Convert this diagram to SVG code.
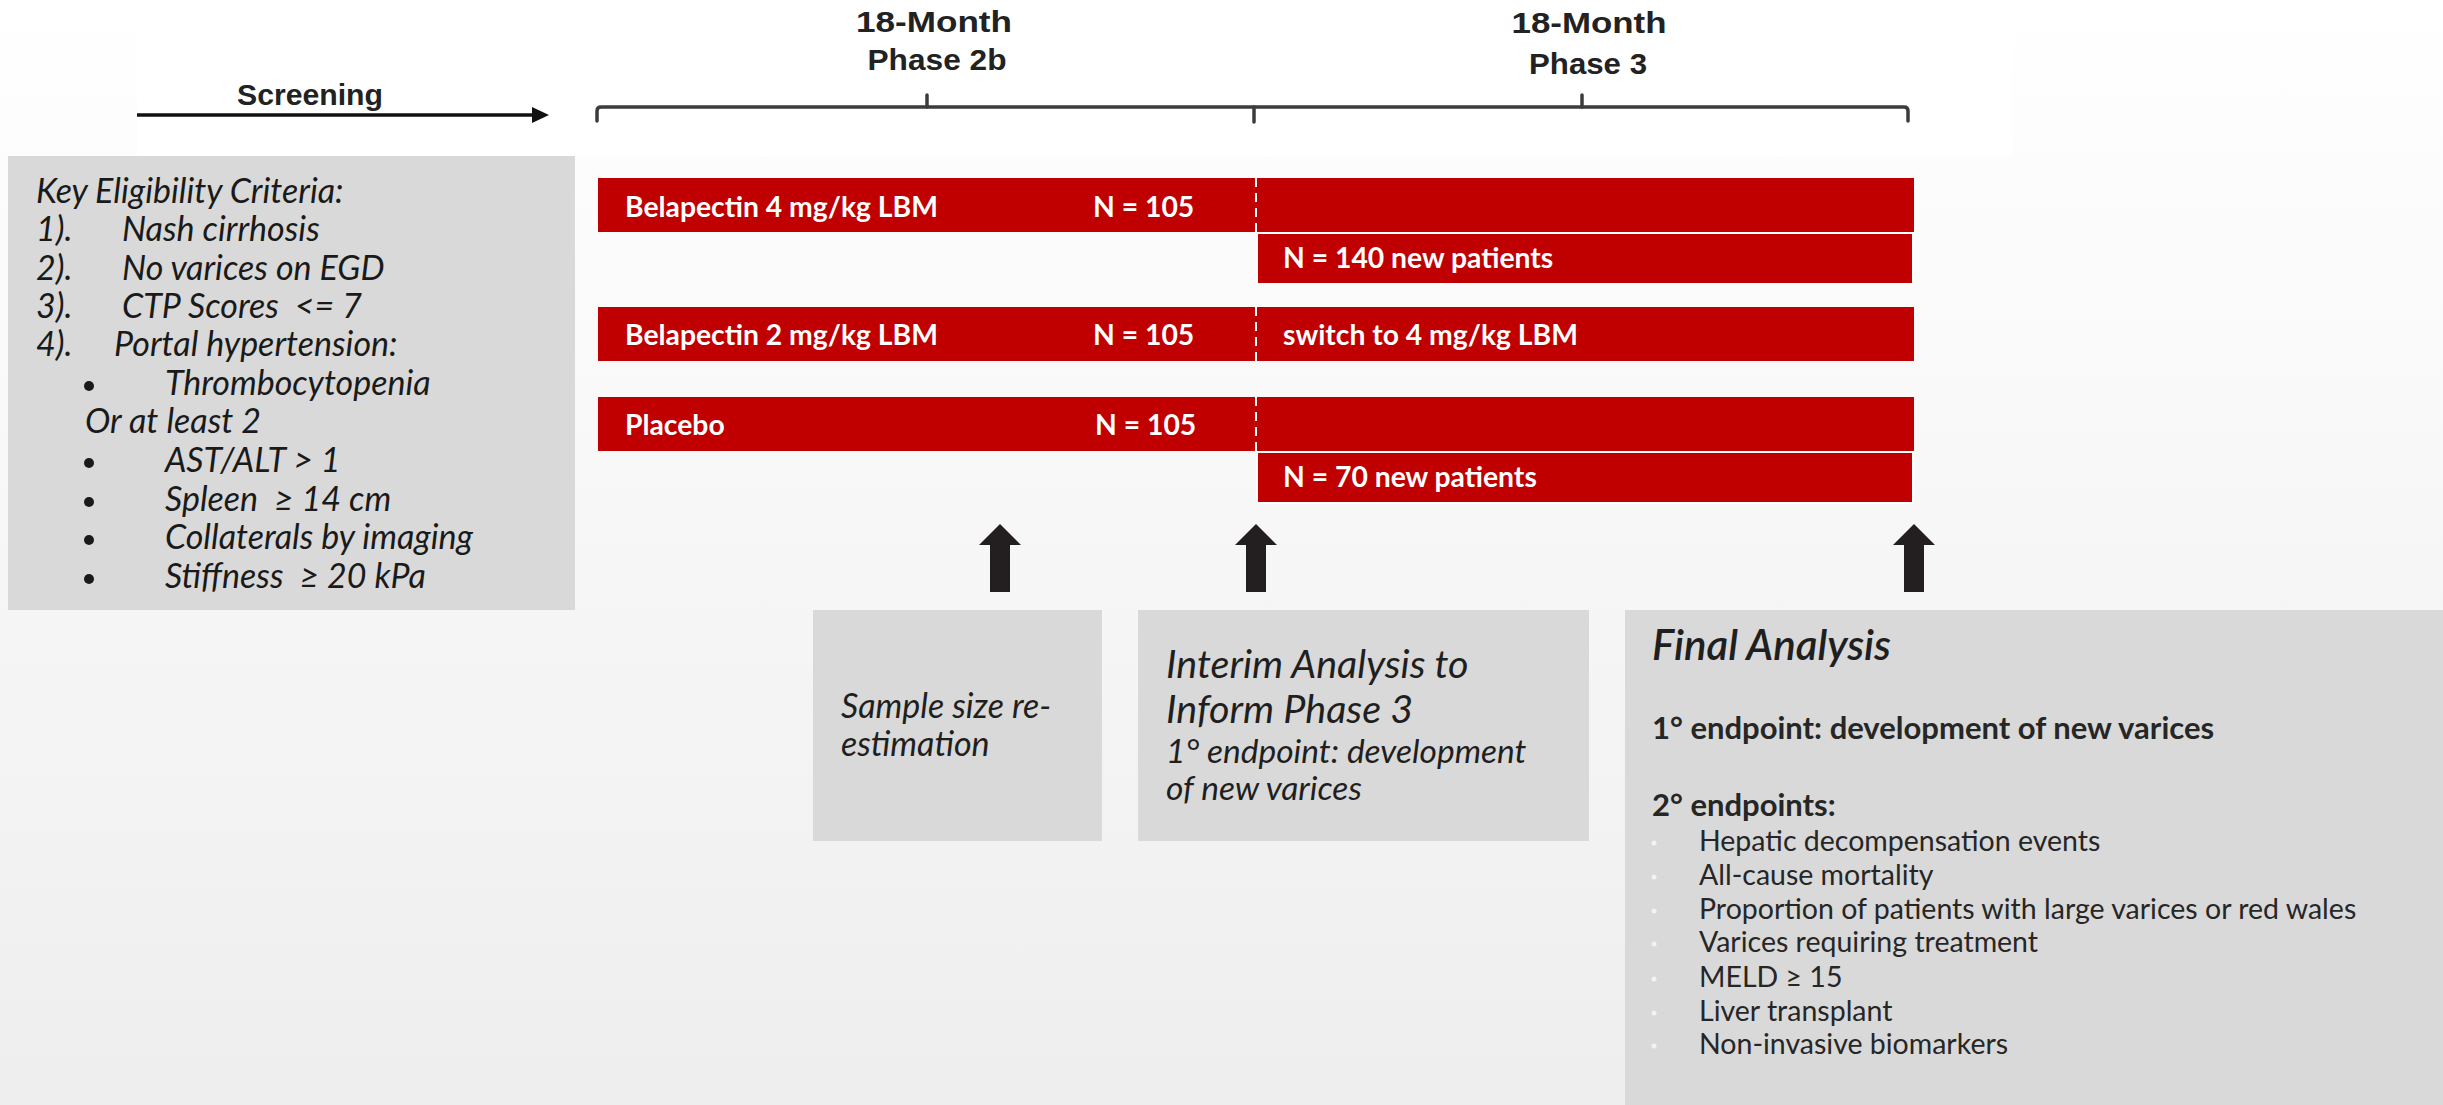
<svg xmlns="http://www.w3.org/2000/svg" width="2443" height="1105" viewBox="0 0 2443 1105">
<defs>
<linearGradient id="bg" x1="0" y1="0" x2="0" y2="1">
<stop offset="0" stop-color="#ffffff"/>
<stop offset="1" stop-color="#eeeeee"/>
</linearGradient>
<style>
.bar{fill:#c00000}
.bar2{fill:#c00000;stroke:#ffffff;stroke-width:2}
.bt{font-family:Lato,"Liberation Sans",sans-serif;font-weight:bold;font-size:28.3px;fill:#ffffff}
.gbox{fill:#d9d9d9}
.crit{font-family:Lato,"Liberation Sans",sans-serif;font-style:italic;font-size:34px;fill:#1a1a1a}
.hdr{font-family:"Liberation Sans",Arial,sans-serif;font-weight:bold;font-size:30px;fill:#222222}
.dash{stroke:#ffffff;stroke-width:2;stroke-dasharray:9 6}
.tl{fill:none;stroke:#3c3c3c;stroke-width:3.5;stroke-linecap:round;stroke-linejoin:round}
.arr{fill:#231f20}
.it{font-family:Lato,"Liberation Sans",sans-serif;font-style:italic;fill:#1f1f1f}
.fb{font-family:Lato,"Liberation Sans",sans-serif;font-weight:bold;font-size:31px;fill:#262626}
.fl{font-family:Lato,"Liberation Sans",sans-serif;font-size:28.5px;fill:#262626}
.dot{fill:#f2f2f2}
</style>
</defs>
<rect x="0" y="0" width="2443" height="1105" fill="url(#bg)"/>
<rect x="137" y="0" width="1875" height="156" fill="#ffffff"/>

<g id="timeline">
<text class="hdr" x="310" y="105" text-anchor="middle" font-size="27" textLength="146" lengthAdjust="spacingAndGlyphs" fill="#3a3a3a">Screening</text>
<path class="tl" d="M597,121 L597,111 Q597,107 601,107 L1904,107 Q1908,107 1908,111 L1908,121"/>
<path class="tl" d="M927,107 L927,95 M1582,107 L1582,95 M1254,107 L1254,122"/>
<text class="hdr" x="934" y="32" text-anchor="middle" textLength="156" lengthAdjust="spacingAndGlyphs">18-Month</text>
<text class="hdr" x="937" y="70" text-anchor="middle" textLength="139" lengthAdjust="spacingAndGlyphs">Phase 2b</text>
<text class="hdr" x="1589" y="33" text-anchor="middle" textLength="155" lengthAdjust="spacingAndGlyphs">18-Month</text>
<text class="hdr" x="1588" y="74" text-anchor="middle" textLength="118" lengthAdjust="spacingAndGlyphs">Phase 3</text>
</g>

<g id="criteria">
<rect class="gbox" x="8" y="156" width="567" height="454"/>
<text class="crit" x="36" y="203">Key Eligibility Criteria:</text>
<text class="crit" x="36" y="241">1).</text><text class="crit" x="122" y="241">Nash cirrhosis</text>
<text class="crit" x="36" y="280">2).</text><text class="crit" x="122" y="280">No varices on EGD</text>
<text class="crit" x="36" y="318">3).</text><text class="crit" x="122" y="318">CTP Scores&#160; &lt;= 7</text>
<text class="crit" x="36" y="356">4).</text><text class="crit" x="114" y="356">Portal hypertension:</text>
<circle cx="89" cy="386" r="5" fill="#1a1a1a"/><text class="crit" x="165" y="395">Thrombocytopenia</text>
<text class="crit" x="85" y="433">Or at least 2</text>
<circle cx="89" cy="463" r="5" fill="#1a1a1a"/><text class="crit" x="165" y="472">AST/ALT &gt; 1</text>
<circle cx="89" cy="502" r="5" fill="#1a1a1a"/><text class="crit" x="165" y="511">Spleen&#160; ≥ 14 cm</text>
<circle cx="89" cy="540" r="5" fill="#1a1a1a"/><text class="crit" x="165" y="549">Collaterals by imaging</text>
<circle cx="89" cy="579" r="5" fill="#1a1a1a"/><text class="crit" x="165" y="588">Stiffness&#160; ≥ 20 kPa</text>
</g>

<g id="arm-4mg">
<rect class="bar" x="598" y="178" width="1316" height="54"/>
<text class="bt" x="625" y="217">Belapectin 4 mg/kg LBM</text>
<text class="bt" x="1093" y="217">N = 105</text>
<line class="dash" x1="1256" y1="178" x2="1256" y2="232"/>
</g>
<g id="arm-4mg-new">
<rect class="bar2" x="1257" y="233" width="656" height="51"/>
<text class="bt" x="1283" y="268">N = 140 new patients</text>
</g>
<g id="arm-2mg">
<rect class="bar" x="598" y="307" width="1316" height="54"/>
<text class="bt" x="625" y="345">Belapectin 2 mg/kg LBM</text>
<text class="bt" x="1093" y="345">N = 105</text>
<line class="dash" x1="1256" y1="307" x2="1256" y2="361"/>
<text class="bt" x="1283" y="345">switch to 4 mg/kg LBM</text>
</g>
<g id="arm-placebo">
<rect class="bar" x="598" y="397" width="1316" height="54"/>
<text class="bt" x="625" y="435">Placebo</text>
<text class="bt" x="1095" y="435">N = 105</text>
<line class="dash" x1="1256" y1="397" x2="1256" y2="451"/>
</g>
<g id="arm-placebo-new">
<rect class="bar2" x="1257" y="452" width="656" height="51"/>
<text class="bt" x="1283" y="487">N = 70 new patients</text>
</g>

<g id="connectors">
<line x1="137" y1="115" x2="534" y2="115" stroke="#111111" stroke-width="3.5"/>
<polygon points="532,107 549,115 532,123" fill="#111111"/>
<polygon class="arr" points="1000,524 1021,545 1010,545 1010,592 990,592 990,545 979,545"/>
<polygon class="arr" points="1256,524 1277,545 1266,545 1266,592 1246,592 1246,545 1235,545"/>
<polygon class="arr" points="1914,524 1935,545 1924,545 1924,592 1904,592 1904,545 1893,545"/>
</g>

<g id="sample-size">
<rect class="gbox" x="813" y="610" width="289" height="231"/>
<text class="it" x="841" y="718" font-size="34">Sample size re-</text>
<text class="it" x="841" y="756" font-size="34">estimation</text>
</g>

<g id="interim">
<rect class="gbox" x="1138" y="610" width="451" height="231"/>
<text class="it" x="1166" y="678" font-size="39.5">Interim Analysis to</text>
<text class="it" x="1166" y="723" font-size="39.5">Inform Phase 3</text>
<text class="it" x="1166" y="763" font-size="33.5">1° endpoint: development</text>
<text class="it" x="1166" y="800" font-size="33.5">of new varices</text>
</g>

<g id="final">
<rect class="gbox" x="1625" y="610" width="818" height="495"/>
<text class="it" x="1652" y="660" font-size="42" font-weight="600">Final Analysis</text>
<text class="fb" x="1652" y="739">1° endpoint: development of new varices</text>
<text class="fb" x="1652" y="816">2° endpoints:</text>
<circle class="dot" cx="1654" cy="843" r="2.5"/><text class="fl" x="1699" y="851">Hepatic decompensation events</text>
<circle class="dot" cx="1654" cy="877" r="2.5"/><text class="fl" x="1699" y="885">All-cause mortality</text>
<circle class="dot" cx="1654" cy="911" r="2.5"/><text class="fl" x="1699" y="919">Proportion of patients with large varices or red wales</text>
<circle class="dot" cx="1654" cy="944" r="2.5"/><text class="fl" x="1699" y="952">Varices requiring treatment</text>
<circle class="dot" cx="1654" cy="979" r="2.5"/><text class="fl" x="1699" y="987">MELD ≥ 15</text>
<circle class="dot" cx="1654" cy="1013" r="2.5"/><text class="fl" x="1699" y="1021">Liver transplant</text>
<circle class="dot" cx="1654" cy="1046" r="2.5"/><text class="fl" x="1699" y="1054">Non-invasive biomarkers</text>
</g>
</svg>
